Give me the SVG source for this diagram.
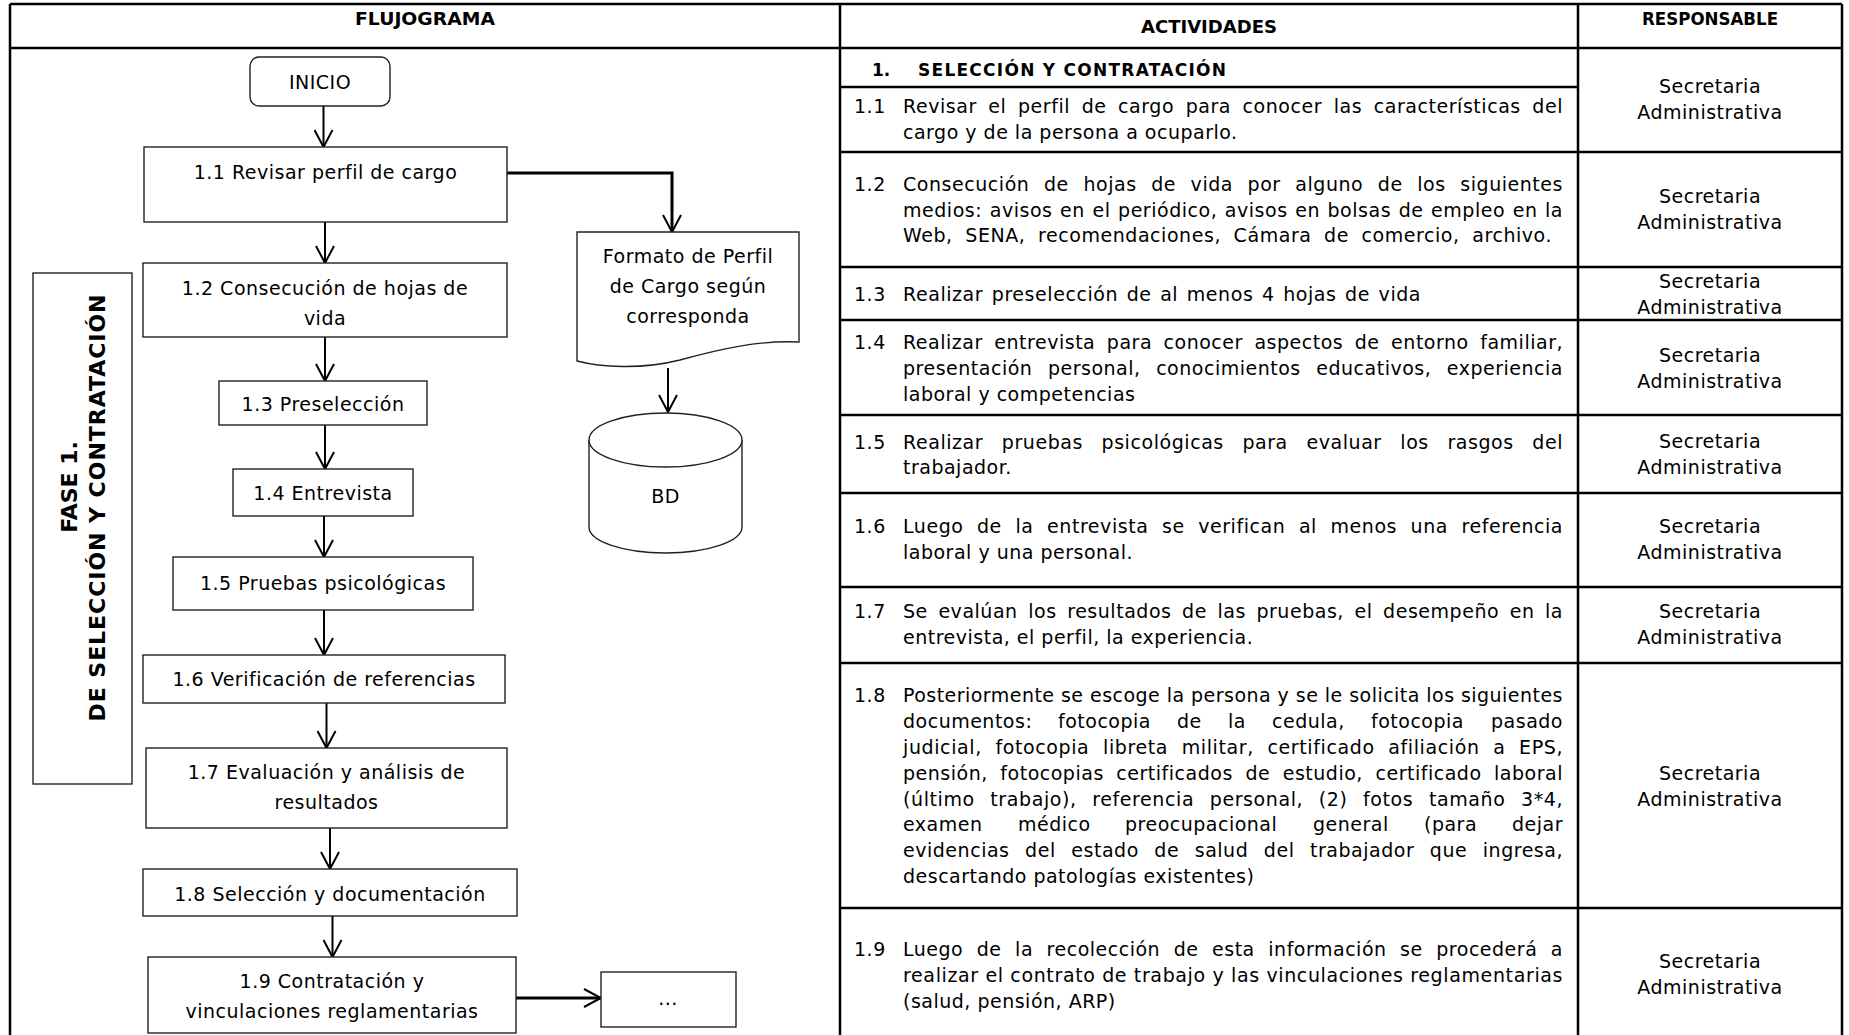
<svg xmlns="http://www.w3.org/2000/svg" width="1849" height="1035" viewBox="0 0 1849 1035">
  <defs>
    <marker id="arrow" viewBox="0 0 20 20" refX="18" refY="10" markerWidth="20" markerHeight="20" markerUnits="userSpaceOnUse" orient="auto">
      <path d="M1,1 L18,10 L1,19" fill="none" stroke="#000" stroke-width="2"/>
    </marker>
    <style>
      .grid { stroke: #000; stroke-width: 2.5; fill: none; }
      .box { fill: #fff; stroke: #222; stroke-width: 1.4; }
      .conn { fill: none; stroke: #000; stroke-width: 2; marker-end: url(#arrow); }
      .thick { stroke-width: 3; }
      .hd { font-family: "DejaVu Sans", sans-serif; font-weight: bold; font-size: 17px; fill: #000; }
      .sec { font-family: "DejaVu Sans", sans-serif; font-weight: bold; font-size: 17px; fill: #000; }
      .t { font-family: "DejaVu Sans", sans-serif; font-size: 19px; letter-spacing: 0.5px; fill: #000; }
      .c { text-anchor: middle; }
      .e { text-anchor: end; }
      .ph { font-family: "DejaVu Sans", sans-serif; font-weight: bold; font-size: 22px; fill: #000; text-anchor: middle; }
    </style>
  </defs>

  <rect width="1849" height="1035" fill="#fff"/>

  <!-- table frame -->
  <g id="table">
    <path class="grid" d="M10,4 H1842 M10,4 V1035 M840,4 V1035 M1578,4 V1035 M1842,4 V1035 M10,48 H1842"/>
    <path class="grid" d="M840,87 H1578 M840,152 H1842 M840,267 H1842 M840,320 H1842 M840,415 H1842 M840,493 H1842 M840,587 H1842 M840,663 H1842 M840,908 H1842"/>
    <text class="hd c" x="425" y="25" textLength="140" lengthAdjust="spacingAndGlyphs">FLUJOGRAMA</text>
    <text class="hd c" x="1209" y="33" textLength="136" lengthAdjust="spacingAndGlyphs">ACTIVIDADES</text>
    <text class="hd c" x="1710" y="25" textLength="136" lengthAdjust="spacingAndGlyphs">RESPONSABLE</text>
  </g>

  <!-- activities column: justified lines use word-spacing plus textLength -->
  <g id="actividades">
    <text class="sec" x="872" y="76">1.</text>
    <text class="sec" x="918" y="76" textLength="308" lengthAdjust="spacing">SELECCIÓN Y CONTRATACIÓN</text>

    <text class="t" x="854" y="113">1.1</text>
    <text class="t" x="903" y="113" style="word-spacing:5px" textLength="660" lengthAdjust="spacing">Revisar el perfil de cargo para conocer las características del</text>
    <text class="t" x="903" y="139">cargo y de la persona a ocuparlo.</text>

    <text class="t" x="854" y="191">1.2</text>
    <text class="t" x="903" y="191" style="word-spacing:8px" textLength="660" lengthAdjust="spacing">Consecución de hojas de vida por alguno de los siguientes</text>
    <text class="t" x="903" y="216.5" style="word-spacing:1px" textLength="660" lengthAdjust="spacing">medios: avisos en el periódico, avisos en bolsas de empleo en la</text>
    <text class="t" x="903" y="242" style="word-spacing:6px" textLength="649" lengthAdjust="spacing">Web, SENA, recomendaciones, Cámara de comercio, archivo.</text>

    <text class="t" x="854" y="301">1.3</text>
    <text class="t" x="903" y="301" style="word-spacing:2px" textLength="518" lengthAdjust="spacing">Realizar preselección de al menos 4 hojas de vida</text>

    <text class="t" x="854" y="349">1.4</text>
    <text class="t" x="903" y="349" style="word-spacing:5px" textLength="660" lengthAdjust="spacing">Realizar entrevista para conocer aspectos de entorno familiar,</text>
    <text class="t" x="903" y="375" style="word-spacing:9px" textLength="660" lengthAdjust="spacing">presentación personal, conocimientos educativos, experiencia</text>
    <text class="t" x="903" y="401">laboral y competencias</text>

    <text class="t" x="854" y="449">1.5</text>
    <text class="t" x="903" y="449" style="word-spacing:12px" textLength="660" lengthAdjust="spacing">Realizar pruebas psicológicas para evaluar los rasgos del</text>
    <text class="t" x="903" y="474">trabajador.</text>

    <text class="t" x="854" y="533">1.6</text>
    <text class="t" x="903" y="533" style="word-spacing:7px" textLength="660" lengthAdjust="spacing">Luego de la entrevista se verifican al menos una referencia</text>
    <text class="t" x="903" y="559">laboral y una personal.</text>

    <text class="t" x="854" y="618">1.7</text>
    <text class="t" x="903" y="618" style="word-spacing:4px" textLength="660" lengthAdjust="spacing">Se evalúan los resultados de las pruebas, el desempeño en la</text>
    <text class="t" x="903" y="644">entrevista, el perfil, la experiencia.</text>

    <text class="t" x="854" y="702">1.8</text>
    <text class="t" x="903" y="702" textLength="660" lengthAdjust="spacing">Posteriormente se escoge la persona y se le solicita los siguientes</text>
    <text class="t" y="728"><tspan x="903">documentos:</tspan><tspan x="1058">fotocopia</tspan><tspan x="1177">de</tspan><tspan x="1228">la</tspan><tspan x="1272">cedula,</tspan><tspan x="1371">fotocopia</tspan></text>
    <text class="t e" x="1563" y="728">pasado</text>
    <text class="t" x="903" y="754" style="word-spacing:7px" textLength="660" lengthAdjust="spacing">judicial, fotocopia libreta militar, certificado afiliación a EPS,</text>
    <text class="t" x="903" y="780" style="word-spacing:6px" textLength="660" lengthAdjust="spacing">pensión, fotocopias certificados de estudio, certificado laboral</text>
    <text class="t" x="903" y="806" style="word-spacing:9px" textLength="660" lengthAdjust="spacing">(último trabajo), referencia personal, (2) fotos tamaño 3*4,</text>
    <text class="t" y="831"><tspan x="903">examen</tspan><tspan x="1018">médico</tspan><tspan x="1125">preocupacional</tspan><tspan x="1313">general</tspan><tspan x="1424">(para</tspan></text>
    <text class="t e" x="1563" y="831">dejar</text>
    <text class="t" x="903" y="857" style="word-spacing:9px" textLength="660" lengthAdjust="spacing">evidencias del estado de salud del trabajador que ingresa,</text>
    <text class="t" x="903" y="883">descartando patologías existentes)</text>

    <text class="t" x="854" y="956">1.9</text>
    <text class="t" x="903" y="956" style="word-spacing:7px" textLength="660" lengthAdjust="spacing">Luego de la recolección de esta información se procederá a</text>
    <text class="t" x="903" y="982" textLength="660" lengthAdjust="spacing">realizar el contrato de trabajo y las vinculaciones reglamentarias</text>
    <text class="t" x="903" y="1008">(salud, pensión, ARP)</text>
  </g>

  <!-- responsible column -->
  <g id="responsable">
    <text class="t c" x="1710" y="93">Secretaria</text>
    <text class="t c" x="1710" y="119">Administrativa</text>
    <text class="t c" x="1710" y="203">Secretaria</text>
    <text class="t c" x="1710" y="229">Administrativa</text>
    <text class="t c" x="1710" y="288">Secretaria</text>
    <text class="t c" x="1710" y="314">Administrativa</text>
    <text class="t c" x="1710" y="362">Secretaria</text>
    <text class="t c" x="1710" y="388">Administrativa</text>
    <text class="t c" x="1710" y="448">Secretaria</text>
    <text class="t c" x="1710" y="474">Administrativa</text>
    <text class="t c" x="1710" y="533">Secretaria</text>
    <text class="t c" x="1710" y="559">Administrativa</text>
    <text class="t c" x="1710" y="618">Secretaria</text>
    <text class="t c" x="1710" y="644">Administrativa</text>
    <text class="t c" x="1710" y="780">Secretaria</text>
    <text class="t c" x="1710" y="806">Administrativa</text>
    <text class="t c" x="1710" y="968">Secretaria</text>
    <text class="t c" x="1710" y="994">Administrativa</text>
  </g>

  <!-- phase label -->
  <g id="fase">
    <rect class="box" x="33" y="273" width="99" height="511"/>
    <text class="ph" transform="translate(77,487) rotate(-90)">FASE 1.</text>
    <text class="ph" transform="translate(105,508) rotate(-90)" textLength="427" lengthAdjust="spacing">DE SELECCIÓN Y CONTRATACIÓN</text>
  </g>

  <!-- connectors -->
  <g id="connectors">
    <line class="conn" x1="323.5" y1="106" x2="323.5" y2="147"/>
    <line class="conn" x1="325" y1="222" x2="325" y2="263"/>
    <line class="conn" x1="325" y1="337" x2="325" y2="381"/>
    <line class="conn" x1="325" y1="425" x2="325" y2="469"/>
    <line class="conn" x1="324" y1="516" x2="324" y2="557"/>
    <line class="conn" x1="324" y1="610" x2="324" y2="655"/>
    <line class="conn" x1="326.5" y1="703" x2="326.5" y2="748"/>
    <line class="conn" x1="330" y1="828" x2="330" y2="869"/>
    <line class="conn" x1="332.5" y1="916" x2="332.5" y2="957"/>
    <path class="conn thick" d="M507,173 H672 V232"/>
    <line class="conn" x1="668" y1="368" x2="668" y2="412"/>
    <line class="conn thick" x1="516" y1="998" x2="601" y2="998"/>
  </g>

  <!-- flowchart nodes -->
  <g id="inicio">
    <rect class="box" x="250" y="57" width="140" height="49" rx="9"/>
    <text class="t c" x="320" y="89">INICIO</text>
  </g>
  <g id="n11">
    <rect class="box" x="144" y="147" width="363" height="75"/>
    <text class="t c" x="325.5" y="179">1.1 Revisar perfil de cargo</text>
  </g>
  <g id="n12">
    <rect class="box" x="143" y="263" width="364" height="74"/>
    <text class="t c" x="325" y="295">1.2 Consecución de hojas de</text>
    <text class="t c" x="325" y="325">vida</text>
  </g>
  <g id="n13">
    <rect class="box" x="219" y="381" width="208" height="44"/>
    <text class="t c" x="323" y="411">1.3 Preselección</text>
  </g>
  <g id="n14">
    <rect class="box" x="233" y="469" width="180" height="47"/>
    <text class="t c" x="323" y="500">1.4 Entrevista</text>
  </g>
  <g id="n15">
    <rect class="box" x="173" y="557" width="300" height="53"/>
    <text class="t c" x="323" y="590">1.5 Pruebas psicológicas</text>
  </g>
  <g id="n16">
    <rect class="box" x="143" y="655" width="362" height="48"/>
    <text class="t c" x="324" y="686">1.6 Verificación de referencias</text>
  </g>
  <g id="n17">
    <rect class="box" x="146" y="748" width="361" height="80"/>
    <text class="t c" x="326.5" y="779">1.7 Evaluación y análisis de</text>
    <text class="t c" x="326.5" y="809">resultados</text>
  </g>
  <g id="n18">
    <rect class="box" x="143" y="869" width="374" height="47"/>
    <text class="t c" x="330" y="901">1.8 Selección y documentación</text>
  </g>
  <g id="n19">
    <rect class="box" x="148" y="957" width="368" height="76"/>
    <text class="t c" x="332" y="988">1.9 Contratación y</text>
    <text class="t c" x="332" y="1018">vinculaciones reglamentarias</text>
  </g>
  <g id="continua">
    <rect class="box" x="601" y="972" width="135" height="55"/>
    <text class="t c" x="668" y="1005">...</text>
  </g>
  <g id="formato">
    <path class="box" d="M577,232 H799 V342 C760,340 720,349 680,360 C640,370 600,367 577,361 Z"/>
    <text class="t c" x="688" y="263">Formato de Perfil</text>
    <text class="t c" x="688" y="293">de Cargo según</text>
    <text class="t c" x="688" y="323">corresponda</text>
  </g>
  <g id="bd">
    <path class="box" d="M589,440 V527 A76.5,26 0 0 0 742,527 V440"/>
    <ellipse class="box" cx="665.5" cy="440" rx="76.5" ry="27"/>
    <text class="t c" x="665.5" y="503">BD</text>
  </g>
</svg>
